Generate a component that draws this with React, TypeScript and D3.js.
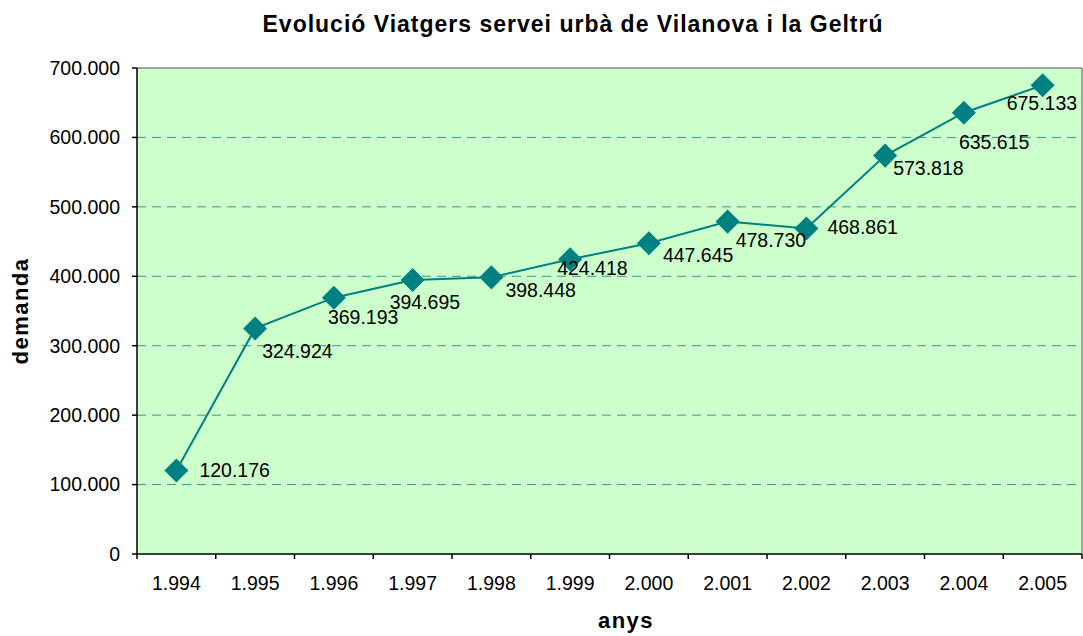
import * as d3 from 'd3';

const years = ['1.994', '1.995', '1.996', '1.997', '1.998', '1.999', '2.000', '2.001', '2.002', '2.003', '2.004', '2.005'];
const demanda = [120176, 324924, 369193, 394695, 398448, 424418, 447645, 478730, 468861, 573818, 635615, 675133];
const yTicks = [0, 100000, 200000, 300000, 400000, 500000, 600000, 700000];

// hand placed label offsets (px from the marker), like the original
const labelDx = [23, 7, -6, -23, 14, -13, 14, 8, 21, 8, -5, -36];
const labelDy = [0, 23, 20, 22, 13, 9, 12, 19, -1, 13, 29, 18];

const W = 1083;
const H = 636;
const plot = { left: 137, right: 1082, top: 68, bottom: 554 };
const font = '"Liberation Sans", Arial, sans-serif';

const fmt = (v: number) => d3.format(',')(v).replace(/,/g, '.');

export default function App() {
  const x = d3.scaleBand().domain(years).range([plot.left, plot.right]).padding(0);
  const y = d3.scaleLinear().domain([0, 700000]).range([plot.bottom, plot.top]);
  const cx = (d: string) => (x(d) ?? 0) + x.bandwidth() / 2;

  const line = d3.line<number>()
    .x((_, i) => cx(years[i]))
    .y(d => y(d));

  const diamond = d3.symbol().type(d3.symbolSquare).size(17 * 17)();

  return (
    <svg width={W} height={H} style={{ position: 'absolute', left: 0, top: 0 }} fontFamily={font}>
      <rect x={0} y={0} width={W} height={H} fill="#fff" />
      <text x={573} y={32} textAnchor="middle" fontSize={23} fontWeight="bold" letterSpacing={1} fill="#000">
        Evolució Viatgers servei urbà de Vilanova i la Geltrú
      </text>

      <rect x={plot.left} y={plot.top} width={plot.right - plot.left} height={plot.bottom - plot.top} fill="#ccffcc" />

      {yTicks.filter(t => t > 0 && t < 700000).map(t => (
        <line key={t} x1={plot.left} x2={plot.right} y1={y(t)} y2={y(t)}
          stroke="#339999" strokeWidth={1} strokeDasharray="9,6" />
      ))}

      {/* frame */}
      <line x1={plot.left} x2={plot.right} y1={plot.top} y2={plot.top} stroke="#888" strokeWidth={1.5} />
      <line x1={plot.right} x2={plot.right} y1={plot.top} y2={plot.bottom} stroke="#888" strokeWidth={1.5} />
      <line x1={plot.left} x2={plot.left} y1={plot.top} y2={plot.bottom} stroke="#000" strokeWidth={1.5} />
      <line x1={plot.left} x2={plot.right} y1={plot.bottom} y2={plot.bottom} stroke="#000" strokeWidth={1.5} />

      {yTicks.map(t => (
        <g key={t}>
          <line x1={plot.left - 5} x2={plot.left} y1={y(t)} y2={y(t)} stroke="#000" strokeWidth={1.5} />
          <text x={120} y={y(t)} dy="0.35em" textAnchor="end" fontSize={19.5} fill="#000">{fmt(t)}</text>
        </g>
      ))}

      {years.map(d => (
        <line key={d} x1={x(d)} x2={x(d)} y1={plot.bottom} y2={plot.bottom + 5} stroke="#000" strokeWidth={1.5} />
      ))}
      <line x1={plot.right} x2={plot.right} y1={plot.bottom} y2={plot.bottom + 5} stroke="#000" strokeWidth={1.5} />
      {years.map(d => (
        <text key={d} x={cx(d)} y={590} textAnchor="middle" fontSize={19.5} fill="#000">{d}</text>
      ))}

      <text transform={`translate(28,${(plot.top + plot.bottom) / 2}) rotate(-90)`} textAnchor="middle"
        fontSize={22} fontWeight="bold" letterSpacing={1.5} fill="#000">demanda</text>
      <text x={626} y={628} textAnchor="middle" fontSize={22} fontWeight="bold" letterSpacing={1.5} fill="#000">anys</text>

      <path d={line(demanda) ?? ''} fill="none" stroke="#008080" strokeWidth={2} />
      {demanda.map((v, i) => (
        <path key={i} d={diamond ?? ''} transform={`translate(${cx(years[i])},${y(v)}) rotate(45)`} fill="#008080" />
      ))}
      {demanda.map((v, i) => (
        <text key={i} x={cx(years[i]) + labelDx[i]} y={y(v) + labelDy[i]} dy="0.35em"
          fontSize={19.5} fill="#000">{fmt(v)}</text>
      ))}
    </svg>
  );
}
